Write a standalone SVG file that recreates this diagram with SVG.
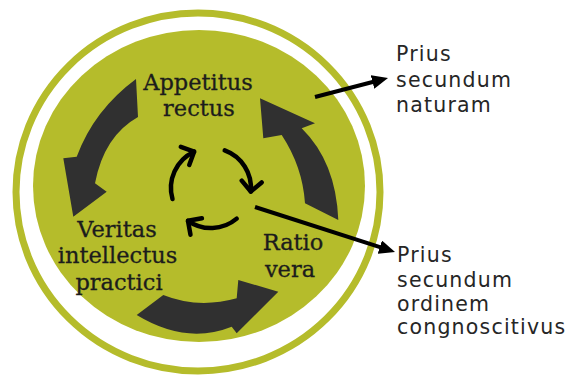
<svg xmlns="http://www.w3.org/2000/svg" width="566" height="378" viewBox="0 0 566 378">
<defs>
<style>
.serif{font-family:"DejaVu Serif","Liberation Serif",serif;font-size:22.5px;fill:#1c1c1c;stroke:#1c1c1c;stroke-width:0.3;text-anchor:middle}
.sans{font-family:"DejaVu Sans","Liberation Sans",sans-serif;font-size:20.5px;fill:#262626;letter-spacing:1.2px}
.big{fill:#303030}
.small{fill:none;stroke:#000;stroke-width:4.5;stroke-linecap:round}
.conn{fill:none;stroke:#000;stroke-width:4}
</style>
<marker id="chev" markerUnits="userSpaceOnUse" markerWidth="30" markerHeight="30" viewBox="-15 -15 30 30" refX="0" refY="0" orient="auto" overflow="visible">
<path d="M-10,-10 L0,0 L-10,10" fill="none" stroke="#000" stroke-width="4.5" stroke-linecap="round" stroke-linejoin="round"/>
</marker>
<marker id="tri" markerUnits="userSpaceOnUse" markerWidth="16" markerHeight="14" viewBox="0 0 16 14" refX="10" refY="7" orient="auto">
<path d="M0,0 L16,7 L0,14 z" fill="#000"/>
</marker>
</defs>
<rect width="566" height="378" fill="#fff"/>
<g id="disk">
<ellipse cx="198" cy="192" rx="182" ry="179" fill="none" stroke="#b5bc2b" stroke-width="7"/>
<ellipse cx="199" cy="186" rx="166" ry="156" fill="#b5bc2b"/>
</g>
<g id="connectors">
<path class="big" d="M136,79 Q94,110 76.7,156.7 L63.3,158.3 L73.3,216.7 L106.7,191.7 L95,183.3 Q104,136 138,117 Z"/>
<path class="big" d="M260,98.3 L315,123.3 L301.7,128.3 Q336,162 338.3,220 L305,203.3 Q302.6,166.8 281.7,135 L263.3,138.3 Z"/>
<path class="big" d="M163.3,295 Q198,309 236.7,298.3 L238.3,280 L278.3,291.7 L236.7,333.3 L231.7,326.7 Q186,345 136.7,315 Z"/>
<path class="small" marker-end="url(#chev)" d="M172.5,199 A40,40 0 0 1 194.1,151.7"/>
<path class="small" marker-end="url(#chev)" d="M224.7,150.4 A40,40 0 0 1 250.8,191.5"/>
<path class="small" marker-end="url(#chev)" d="M236.7,218.6 A40,40 0 0 1 188,220.8"/>
<path class="conn" marker-end="url(#tri)" d="M315,97 L382.2,79.5"/>
<path class="conn" marker-end="url(#tri)" d="M255,207 L389.3,250.2"/>
</g>
<g id="node-appetitus">
<text class="serif" x="198" y="90">Appetitus</text>
<text class="serif" x="199" y="116">rectus</text>
</g>
<g id="node-veritas">
<text class="serif" x="117" y="237">Veritas</text>
<text class="serif" x="117.5" y="263">intellectus</text>
<text class="serif" x="119" y="290">practici</text>
</g>
<g id="node-ratio">
<text class="serif" x="293" y="250">Ratio</text>
<text class="serif" x="290" y="277">vera</text>
</g>
<g id="node-naturam">
<text class="sans" x="396" y="60.5">Prius</text>
<text class="sans" x="396" y="86.5">secundum</text>
<text class="sans" x="396" y="111.5">naturam</text>
</g>
<g id="node-ordinem">
<text class="sans" x="397" y="262">Prius</text>
<text class="sans" x="397" y="286.5">secundum</text>
<text class="sans" x="397" y="310.5">ordinem</text>
<text class="sans" x="397" y="334">congnoscitivus</text>
</g>
</svg>
